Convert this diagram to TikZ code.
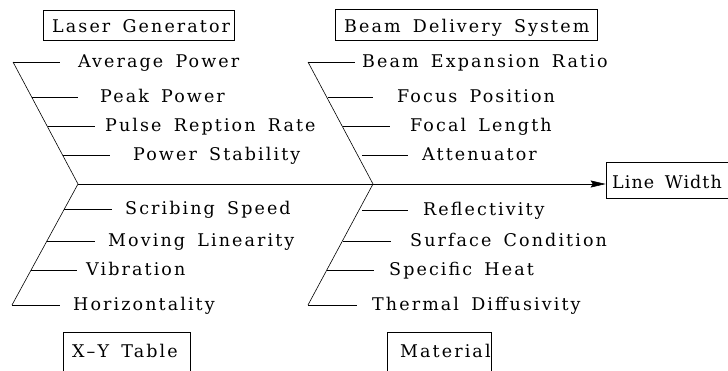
\documentclass[tikz,border=0pt]{standalone}
\usepackage{fontspec}
\setmainfont{DejaVu Serif}[LetterSpace=12, WordSpace=1.6]
\usetikzlibrary{arrows.meta}
\tikzset{
  lbl/.style={anchor=base west, inner sep=0pt, font=\fontsize{17.5}{20}\selectfont},
  catbox/.style={draw, line width=0.6pt, inner sep=0pt},
  bone/.style={line width=0.6pt},
  spine/.style={line width=0.6pt, -{Stealth[length=15pt,width=7pt,inset=2pt]}}
}
\begin{document}
\begin{tikzpicture}[x=1pt,y=-1pt]
\useasboundingbox (0,0) rectangle (728,370);
% category boxes
\node[catbox, minimum width=191pt, minimum height=30pt] (lg) at (138.5,25) {};
\node[lbl] (lgt) at (52,32) {Laser Generator};
\node[catbox, minimum width=262pt, minimum height=31pt] (bds) at (466,24.5) {};
\node[lbl] (bdst) at (344,32) {Beam Delivery System};
\node[catbox, minimum width=127pt, minimum height=48pt] (xy) at (126.5,356) {};
\node[lbl] (xyt) at (72,357) {X–Y Table};
\node[catbox, minimum width=104pt, minimum height=48pt] (mat) at (439,356) {};
\node[lbl] (matt) at (400,357) {Material};
\node[catbox, minimum width=130pt, minimum height=36pt] (lw) at (671,180) {};
\node[lbl, font=\fontsize{17.5}{20}\selectfont\addfontfeatures{LetterSpace=6}] (lwt) at (612,188) {Line Width};
% spine
\coordinate (j1) at (78,184);
\coordinate (j2) at (373,184);
\draw[spine] (j1) -- (j1 -| lw.west);
% diagonals
\coordinate (t1) at (13,62);
\coordinate (t2) at (308,62);
\coordinate (b1) at (12,305);
\coordinate (b2) at (308,305);
\draw[bone] (t1) -- (j1) -- (b1);
\draw[bone] (t2) -- (j2) -- (b2);
% top-left labels
\node[lbl] (ap) at (78,67) {Average Power};
\node[lbl] (pp) at (100,102) {Peak Power};
\node[lbl] (prr) at (105,131) {Pulse Reption Rate};
\node[lbl] (ps) at (133,160) {Power Stability};
\coordinate (ape) at (60,62);
\coordinate (pps) at (32,97);  \coordinate (ppe) at (78,97);
\coordinate (prs) at (48,126); \coordinate (pre) at (95,126);
\coordinate (pss) at (63,155); \coordinate (pse) at (110,155);
\draw[bone] (t1) -- (ape);
\draw[bone] (pps) -- (ppe);
\draw[bone] (prs) -- (pre);
\draw[bone] (pss) -- (pse);
% top-mid labels
\node[lbl] (ber) at (362,67) {Beam Expansion Ratio};
\node[lbl] (fp) at (397,102) {Focus Position};
\node[lbl] (fl) at (410,131) {Focal Length};
\node[lbl] (at) at (422,160) {Attenuator};
\coordinate (bere) at (355,62);
\coordinate (fps) at (328,97);  \coordinate (fpe) at (373,97);
\coordinate (fls) at (343,126); \coordinate (fle) at (390,126);
\coordinate (ats) at (362,155); \coordinate (ate) at (408,155);
\draw[bone] (t2) -- (bere);
\draw[bone] (fps) -- (fpe);
\draw[bone] (fls) -- (fle);
\draw[bone] (ats) -- (ate);
% bottom-left labels
\node[lbl] (ss) at (125,214) {Scribing Speed};
\node[lbl] (ml) at (108,246) {Moving Linearity};
\node[lbl] (vb) at (86,275) {Vibration};
\node[lbl] (hz) at (73,310) {Horizontality};
\coordinate (sss) at (64,209); \coordinate (sse) at (112,209);
\coordinate (mls) at (47,241); \coordinate (mle) at (95,241);
\coordinate (vbs) at (31,270); \coordinate (vbe) at (77,270);
\coordinate (hze) at (60,305);
\draw[bone] (sss) -- (sse);
\draw[bone] (mls) -- (mle);
\draw[bone] (vbs) -- (vbe);
\draw[bone] (b1) -- (hze);
% bottom-mid labels
\node[lbl] (rf) at (423,215) {Reflectivity};
\node[lbl] (sc) at (410,246) {Surface Condition};
\node[lbl] (sh) at (389,275) {Specific Heat};
\node[lbl] (td) at (372,310) {Thermal Diffusivity};
\coordinate (rfs) at (362,210); \coordinate (rfe) at (408,210);
\coordinate (scs) at (343,241); \coordinate (sce) at (391,241);
\coordinate (shs) at (327,270); \coordinate (she) at (374,270);
\coordinate (tde) at (357,305);
\draw[bone] (rfs) -- (rfe);
\draw[bone] (scs) -- (sce);
\draw[bone] (shs) -- (she);
\draw[bone] (b2) -- (tde);
\end{tikzpicture}
\end{document}
